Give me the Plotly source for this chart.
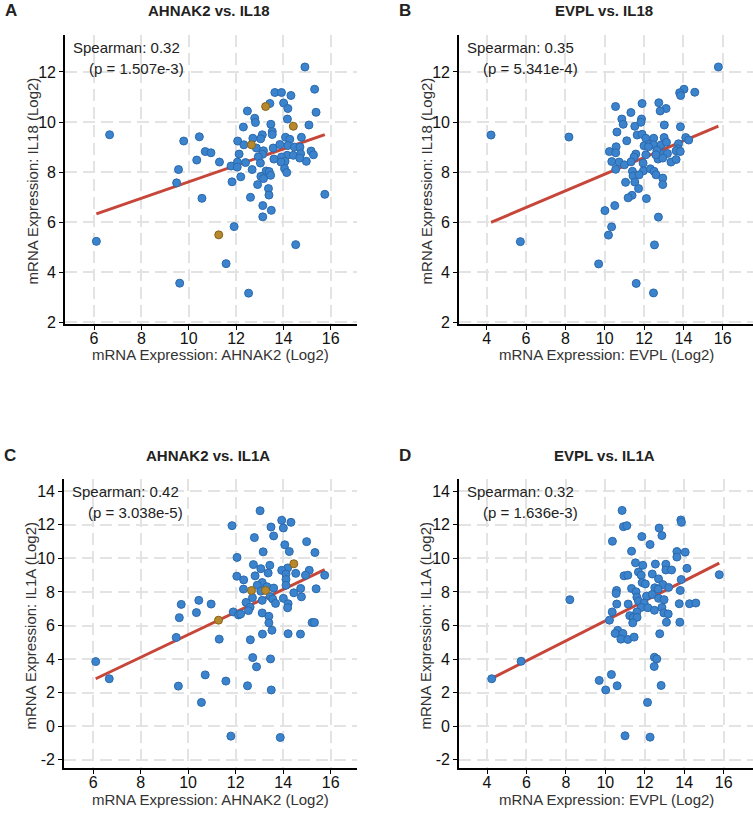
import plotly.graph_objects as go

# ---------------- data ----------------
# Panel A: AHNAK2 vs IL18
a_x = [14.91,15.32,15.38,13.64,13.92,14.32,13.43,14.01,14.19,12.48,14.17,12.79,12.82,12.31,13.47,15.08,13.53,13.53,13.11,12.71,
       13.04,14.09,14.76,14.27,12.07,12.33,12.86,13.16,13.57,13.85,14.19,14.47,14.70,12.13,13.12,14.16,14.42,14.73,15.17,15.27,
       12.94,13.92,14.97,14.69,14.07,13.90,13.60,13.03,12.40,12.06,11.79,12.05,14.05,14.14,12.68,13.27,13.40,13.46,13.05,13.16,
       12.20,11.83,12.91,13.37,13.39,12.61,13.13,13.49,13.13,11.92,14.52,11.58,9.62,12.53,6.10,6.66,9.79,10.45,9.57,9.49,
       10.34,10.70,10.94,11.30,10.56,15.75]
a_y = [12.2,11.31,10.39,11.18,11.18,11.06,10.74,10.76,10.54,10.44,10.12,10.15,9.98,9.80,9.91,9.88,9.62,9.50,9.49,9.35,
       9.33,9.39,9.39,9.31,9.24,9.09,8.96,8.85,8.96,9.10,9.06,9.0,9.0,8.72,8.71,8.67,8.67,8.73,8.84,8.69,
       8.61,8.60,8.43,8.56,8.43,8.40,8.52,8.36,8.38,8.40,8.24,8.20,8.14,7.98,8.10,8.04,8.02,7.87,7.83,7.74,
       7.81,7.61,7.50,7.34,7.08,6.99,6.66,6.47,6.21,5.82,5.10,4.34,3.56,3.16,5.23,9.49,9.24,9.41,8.10,7.57,
       8.48,8.82,8.77,8.40,6.95,7.11]
a_hl_x = [13.25,14.42,12.65,11.27]
a_hl_y = [10.62,9.83,9.09,5.49]
a_fit = [0.328, 4.33]  # slope, intercept

# Panel B: EVPL vs IL18
b_x = [15.78,14.03,13.81,13.86,14.58,10.55,11.90,12.75,13.12,12.82,11.33,10.87,11.87,10.94,11.84,11.53,13.03,13.85,10.62,11.65,
       11.90,12.09,12.49,13.02,14.12,14.27,11.12,10.58,12.0,12.27,12.48,12.87,13.14,13.75,13.73,10.24,10.56,11.58,12.09,12.80,
       13.19,13.63,13.84,11.49,11.95,12.71,12.95,13.37,13.63,10.36,10.73,11.0,11.34,10.56,11.41,11.97,12.32,12.51,12.61,11.44,
       11.75,11.53,11.06,12.95,12.95,11.72,11.39,11.19,12.12,10.01,10.51,12.73,10.35,10.19,12.53,9.69,11.60,12.48,4.22,8.18,
       5.71,12.22,12.65,12.60]
b_y = [12.2,11.31,11.17,11.06,11.19,10.62,10.74,10.77,10.54,10.44,10.38,10.12,10.12,9.91,9.99,9.83,9.88,9.81,9.60,9.48,
       9.51,9.35,9.35,9.38,9.38,9.28,9.25,9.01,9.05,9.11,9.09,9.09,9.19,9.13,8.93,8.82,8.77,8.72,8.69,8.76,
       8.74,8.85,8.82,8.60,8.36,8.52,8.56,8.40,8.50,8.42,8.40,8.29,8.41,8.11,8.03,8.05,8.13,8.03,7.89,7.85,
       7.89,7.60,7.59,7.76,7.50,7.34,7.07,6.97,6.94,6.46,6.66,6.20,5.81,5.48,5.09,4.33,3.55,3.17,9.48,9.40,
       5.22,9.01,8.87,8.69]
b_fit = [0.333, 4.585]

# Panel C: AHNAK2 vs IL1A
c_x = [13.03,11.85,13.94,14.01,14.33,13.49,12.79,13.60,14.99,14.07,12.06,13.16,14.26,15.34,14.53,12.75,13.44,13.06,14.19,13.94,
       15.10,14.12,13.37,14.94,15.75,12.05,12.82,12.34,14.12,13.12,12.91,13.32,14.12,12.33,13.60,14.74,15.39,13.06,14.45,14.77,
       13.46,14.01,12.71,13.56,13.12,12.44,14.21,13.68,12.61,14.19,12.54,11.90,12.12,12.21,13.12,13.40,13.40,15.22,15.32,9.71,
       10.45,10.97,10.35,9.63,9.50,11.31,12.62,13.13,13.53,14.21,14.73,12.72,13.47,12.88,6.11,6.68,10.72,11.59,9.59,12.50,
       13.50,10.56,11.80,13.88]
c_y = [12.84,11.95,12.27,11.81,12.15,11.87,11.24,11.34,11.0,10.81,10.06,10.39,10.41,10.35,9.11,9.63,9.59,9.39,9.43,9.29,
       9.29,9.07,9.13,9.0,9.0,8.94,8.96,8.72,8.74,8.56,8.40,8.31,8.40,8.17,8.23,8.21,8.19,8.05,7.95,7.71,
       7.73,7.62,7.66,7.58,7.50,7.38,7.30,7.32,7.10,7.06,6.89,6.81,6.63,6.69,6.75,6.55,6.16,6.18,6.18,7.26,
       7.50,7.28,6.77,6.47,5.29,5.19,5.15,5.49,5.72,5.51,5.49,4.09,4.01,3.54,3.85,2.83,3.06,2.69,2.39,2.41,
       2.16,1.42,-0.59,-0.67]
c_hl_x = [14.45,12.67,13.26,11.28]
c_hl_y = [9.68,8.09,8.09,6.32]
c_fit = [0.674, -1.29]

# Panel D: EVPL vs IL1A
d_x = [10.85,10.92,11.09,13.83,13.86,12.73,12.87,10.36,11.85,12.27,11.33,13.63,14.05,13.63,11.53,12.54,11.90,13.07,14.14,13.07,
       13.36,10.95,11.14,11.68,11.82,12.38,12.70,11.87,12.03,13.85,12.51,12.92,13.21,11.33,10.57,10.55,11.56,12.68,13.80,11.60,
       12.09,12.38,12.70,12.98,11.68,8.20,11.16,10.58,13.75,14.27,14.59,11.97,11.82,12.16,12.87,10.35,11.60,12.49,12.97,13.19,
       11.24,11.41,11.61,10.21,11.39,13.10,13.78,10.63,10.50,10.89,10.79,11.14,11.46,12.76,12.49,12.61,12.48,5.73,4.24,10.31,
       9.69,10.02,10.60,12.83,12.14,11.0,12.27,15.78]
d_y = [12.86,11.89,11.95,12.29,12.15,11.81,11.36,11.02,11.30,10.83,10.43,10.41,10.37,10.08,9.74,9.66,9.59,9.65,9.41,9.31,
       9.31,8.96,9.0,9.19,9.0,9.07,8.78,8.56,8.48,8.74,8.25,8.44,8.27,8.21,8.09,7.91,8.01,8.17,8.09,7.69,
       7.75,7.85,7.62,7.54,7.46,7.54,7.28,7.28,7.30,7.30,7.34,7.34,7.08,7.06,7.08,6.81,6.81,6.91,6.75,6.69,
       6.59,6.47,6.49,6.32,6.16,6.20,6.20,5.72,5.53,5.53,5.19,5.17,5.31,5.51,4.11,4.01,3.56,3.87,2.83,3.08,
       2.73,2.16,2.41,2.43,1.42,-0.57,-0.65,9.03]
d_fit = [0.595, 0.327]

titles = ["AHNAK2 vs. IL18", "EVPL vs. IL18", "AHNAK2 vs. IL1A", "EVPL vs. IL1A"]
panel_letters = ["A", "B", "C", "D"]
x_titles = ["mRNA Expression: AHNAK2 (Log2)", "mRNA Expression: EVPL (Log2)",
            "mRNA Expression: AHNAK2 (Log2)", "mRNA Expression: EVPL (Log2)"]
y_titles = ["mRNA Expression: IL18 (Log2)", "mRNA Expression: IL18 (Log2)",
            "mRNA Expression: IL1A (Log2)", "mRNA Expression: IL1A (Log2)"]
spearman_text = ["Spearman: 0.32", "Spearman: 0.35", "Spearman: 0.42", "Spearman: 0.32"]
p_text = ["(p = 1.507e-3)", "(p = 5.341e-4)", "(p = 3.038e-5)", "(p = 1.636e-3)"]
x_ticks_ahnak2 = [6, 8, 10, 12, 14, 16]
x_ticks_evpl = [4, 6, 8, 10, 12, 14, 16]
y_ticks_il18 = [2, 4, 6, 8, 10, 12]
y_ticks_il1a = [-2, 0, 2, 4, 6, 8, 10, 12, 14]

# ---------------- layout helpers ----------------
W, H = 753, 816
FONT = "Liberation Sans, Arial, sans-serif"
BLUE, BLUE_EDGE = "#3b84cd", "#2b69ad"
GOLD, GOLD_EDGE = "#b8892c", "#86641c"
RED = "#c7463a"

def px_x(p):
    return p / W

def px_y(p):
    return 1 - p / H

panels = [
    dict(xs=a_x, ys=a_y, hx=a_hl_x, hy=a_hl_y, fit=a_fit, xdom=(65, 357), ydom=(35, 327),
         xr=(4.775, 17.11), yr=(1.92, 13.49), xt=x_ticks_ahnak2, yt=y_ticks_il18),
    dict(xs=b_x, ys=b_y, hx=[], hy=[], fit=b_fit, xdom=(459, 753), ydom=(35, 327),
         xr=(2.59, 17.54), yr=(1.92, 13.49), xt=x_ticks_evpl, yt=y_ticks_il18),
    dict(xs=c_x, ys=c_y, hx=c_hl_x, hy=c_hl_y, fit=c_fit, xdom=(64, 357), ydom=(483, 775),
         xr=(4.775, 17.11), yr=(-2.51, 14.74), xt=x_ticks_ahnak2, yt=y_ticks_il1a),
    dict(xs=d_x, ys=d_y, hx=[], hy=[], fit=d_fit, xdom=(459, 753), ydom=(483, 775),
         xr=(2.58, 17.49), yr=(-2.51, 14.74), xt=x_ticks_evpl, yt=y_ticks_il1a),
]

fig = go.Figure()
layout = {}
annotations = []

for i, p in enumerate(panels):
    n = "" if i == 0 else str(i + 1)
    xa, ya = "x" + n, "y" + n
    # regression line
    x0, x1 = min(p["xs"] + p["hx"]), max(p["xs"] + p["hx"])
    s, b = p["fit"]
    fig.add_trace(go.Scatter(x=[x0, x1], y=[b + s * x0, b + s * x1], mode="lines",
                             line=dict(color=RED, width=3), xaxis=xa, yaxis=ya, showlegend=False))
    fig.add_trace(go.Scatter(x=p["xs"], y=p["ys"], mode="markers",
                             marker=dict(size=8, color=BLUE, line=dict(color=BLUE_EDGE, width=1)),
                             xaxis=xa, yaxis=ya, showlegend=False))
    if p["hx"]:
        fig.add_trace(go.Scatter(x=p["hx"], y=p["hy"], mode="markers",
                                 marker=dict(size=8, color=GOLD, line=dict(color=GOLD_EDGE, width=1)),
                                 xaxis=xa, yaxis=ya, showlegend=False))
    common = dict(showline=True, linecolor="black", linewidth=1.6, ticks="outside", ticklen=4,
                  tickwidth=1.4, tickcolor="black", showgrid=True, gridcolor="#e3e3e3", gridwidth=1.5,
                  griddash="12px,6px", zeroline=False, mirror=False,
                  tickfont=dict(family=FONT, size=16, color="#111111"))
    layout["xaxis" + n] = dict(common, domain=[px_x(p["xdom"][0]), px_x(p["xdom"][1])], range=list(p["xr"]),
                               anchor=ya, tickvals=p["xt"], ticktext=[str(v) for v in p["xt"]],
                               ticklabelstandoff=-5)
    layout["yaxis" + n] = dict(common, domain=[px_y(p["ydom"][1]), px_y(p["ydom"][0])], range=list(p["yr"]),
                               anchor=xa, tickvals=p["yt"], ticktext=[str(v) for v in p["yt"]])

    xl, xr_ = p["xdom"]
    yt_, yb = p["ydom"]
    cx = (xl + xr_) / 2
    # panel title
    annotations.append(dict(text="<b>" + titles[i] + "</b>", x=px_x(cx - 2), y=px_y(yt_ - 24),
                            xref="paper", yref="paper", xanchor="center", yanchor="middle", showarrow=False,
                            font=dict(family=FONT, size=15, color="#222222")))
    # panel letter
    annotations.append(dict(text="<b>" + panel_letters[i] + "</b>", x=px_x(xl - 62), y=px_y(yt_ - 24),
                            xref="paper", yref="paper", xanchor="left", yanchor="middle", showarrow=False,
                            font=dict(family=FONT, size=17, color="#222222")))
    # stats
    annotations.append(dict(text=spearman_text[i], x=px_x(xl + 6), y=px_y(yt_ + 13),
                            xref="paper", yref="paper", xanchor="left", yanchor="middle", showarrow=False,
                            font=dict(family=FONT, size=15, color="#222222")))
    annotations.append(dict(text=p_text[i], x=px_x(xl + 22), y=px_y(yt_ + 34),
                            xref="paper", yref="paper", xanchor="left", yanchor="middle", showarrow=False,
                            font=dict(family=FONT, size=15, color="#222222")))
    # axis titles
    annotations.append(dict(text=x_titles[i], x=px_x(cx), y=px_y(yb + 31),
                            xref="paper", yref="paper", xanchor="center", yanchor="middle", showarrow=False,
                            font=dict(family=FONT, size=15, color="#333333")))
    annotations.append(dict(text=y_titles[i], x=px_x(xl - 33), y=px_y((yt_ + yb) / 2 + 2), textangle=-90,
                            xref="paper", yref="paper", xanchor="center", yanchor="middle", showarrow=False,
                            font=dict(family=FONT, size=15, color="#333333")))

fig.update_layout(width=W, height=H, margin=dict(l=0, r=0, t=0, b=0),
                  paper_bgcolor="white", plot_bgcolor="white", annotations=annotations,
                  font=dict(family=FONT), **layout)

# remove the default page margin so the figure sits at the window's top-left corner
fig.write_html("out.html", config={"displayModeBar": False},
               post_script="document.body.style.margin='0';document.body.style.overflow='hidden';")
